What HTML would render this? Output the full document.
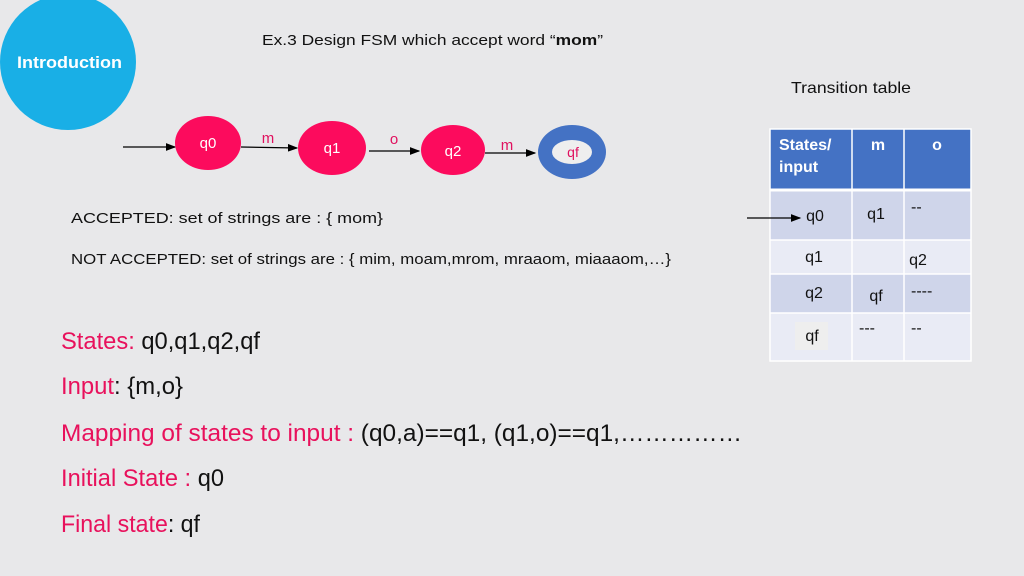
<!DOCTYPE html>
<html><head><meta charset="utf-8"><style>
html,body{margin:0;padding:0;background:#e8e8ea;}
svg{display:block;font-family:"Liberation Sans",sans-serif;}
</style></head><body>
<svg width="1024" height="576" viewBox="0 0 1024 576" xmlns="http://www.w3.org/2000/svg">
<defs><marker id="a" markerWidth="8" markerHeight="6" refX="7" refY="3" orient="auto"><path d="M0,0 L8,3 L0,6 z" fill="#000"/></marker></defs>
<rect width="1024" height="576" fill="#e8e8ea"/>
<circle cx="68" cy="62" r="68" fill="#19afe6"/>
<text x="17" y="68" font-size="17" font-weight="bold" fill="#fff" textLength="105" lengthAdjust="spacingAndGlyphs">Introduction</text>
<text x="262" y="45" font-size="15" fill="#111" textLength="341" lengthAdjust="spacingAndGlyphs">Ex.3 Design FSM which accept word “<tspan font-weight="bold">mom</tspan>”</text>
<text x="791" y="93" font-size="16" fill="#111" textLength="120" lengthAdjust="spacingAndGlyphs">Transition table</text>
<!-- FSM -->
<line x1="123" y1="147" x2="175" y2="147" stroke="#000" stroke-width="1.3" marker-end="url(#a)"/>
<ellipse cx="208" cy="143" rx="33" ry="27" fill="#fc0b5d"/>
<text x="208" y="148" font-size="15" fill="#fff" text-anchor="middle">q0</text>
<text x="268" y="143" font-size="15" fill="#e0115f" text-anchor="middle">m</text>
<line x1="241" y1="147" x2="297" y2="148" stroke="#000" stroke-width="1.3" marker-end="url(#a)"/>
<ellipse cx="332" cy="148" rx="34" ry="27" fill="#fc0b5d"/>
<text x="332" y="153" font-size="15" fill="#fff" text-anchor="middle">q1</text>
<text x="394" y="144" font-size="15" fill="#e0115f" text-anchor="middle">o</text>
<line x1="369" y1="151" x2="419" y2="151" stroke="#000" stroke-width="1.3" marker-end="url(#a)"/>
<ellipse cx="453" cy="150" rx="32" ry="25" fill="#fc0b5d"/>
<text x="453" y="156" font-size="15" fill="#fff" text-anchor="middle">q2</text>
<text x="507" y="150" font-size="15" fill="#e0115f" text-anchor="middle">m</text>
<line x1="485" y1="153" x2="535" y2="153" stroke="#000" stroke-width="1.3" marker-end="url(#a)"/>
<ellipse cx="572" cy="152" rx="34" ry="27" fill="#4472c4"/>
<ellipse cx="572" cy="152" rx="20" ry="12" fill="#eeeeee"/>
<text x="573" y="157" font-size="14" fill="#e0115f" text-anchor="middle">qf</text>
<text x="71" y="223" font-size="15" fill="#111" textLength="312" lengthAdjust="spacingAndGlyphs">ACCEPTED: set of strings are : { mom}</text>
<text x="71" y="264" font-size="15" fill="#111" textLength="600" lengthAdjust="spacingAndGlyphs">NOT ACCEPTED: set of strings are : { mim, moam,mrom, mraaom, miaaaom,…}</text>
<!-- table -->
<rect x="770" y="129" width="201" height="61" fill="#4472c4"/>
<rect x="770" y="190" width="201" height="50" fill="#cfd5ea"/>
<rect x="770" y="240" width="201" height="34" fill="#e9ebf5"/>
<rect x="770" y="274" width="201" height="39" fill="#cfd5ea"/>
<rect x="770" y="313" width="201" height="48" fill="#e9ebf5"/>
<g stroke="#fff" stroke-width="1.5">
<line x1="852" y1="129" x2="852" y2="361"/><line x1="904" y1="129" x2="904" y2="361"/>
<line x1="770" y1="190" x2="971" y2="190" stroke-width="3"/>
<line x1="770" y1="240" x2="971" y2="240"/><line x1="770" y1="274" x2="971" y2="274"/><line x1="770" y1="313" x2="971" y2="313"/>
<rect x="770" y="129" width="201" height="232" fill="none"/>
</g>
<g font-size="16" font-weight="bold" fill="#fff">
<text x="779" y="150">States/</text><text x="779" y="172">input</text>
<text x="878" y="150" text-anchor="middle">m</text><text x="937" y="150" text-anchor="middle">o</text>
</g>
<line x1="747" y1="218" x2="800" y2="218" stroke="#000" stroke-width="1.3" marker-end="url(#a)"/>
<rect x="795" y="322" width="33" height="28" fill="#eeeeee"/>
<g font-size="16" fill="#111">
<text x="815" y="221" text-anchor="middle">q0</text>
<text x="876" y="219" text-anchor="middle">q1</text>
<text x="911" y="212">--</text>
<text x="814" y="262" text-anchor="middle">q1</text>
<text x="918" y="265" text-anchor="middle">q2</text>
<text x="814" y="298" text-anchor="middle">q2</text>
<text x="876" y="301" text-anchor="middle">qf</text>
<text x="911" y="296">----</text>
<text x="812" y="341" text-anchor="middle">qf</text>
<text x="859" y="333">---</text>
<text x="911" y="333">--</text>
</g>
<!-- bottom -->
<g font-size="24" fill="#111">
<text x="61" y="349" textLength="199" lengthAdjust="spacingAndGlyphs"><tspan fill="#e8115c">States: </tspan>q0,q1,q2,qf</text>
<text x="61" y="394" textLength="122" lengthAdjust="spacingAndGlyphs"><tspan fill="#e8115c">Input</tspan>: {m,o}</text>
<text x="61" y="441" textLength="681" lengthAdjust="spacingAndGlyphs"><tspan fill="#e8115c">Mapping of states to input : </tspan>(q0,a)==q1, (q1,o)==q1,……………</text>
<text x="61" y="486" textLength="163" lengthAdjust="spacingAndGlyphs"><tspan fill="#e8115c">Initial State : </tspan>q0</text>
<text x="61" y="532" textLength="139" lengthAdjust="spacingAndGlyphs"><tspan fill="#e8115c">Final state</tspan>: qf</text>
</g>
</svg>
</body></html>
